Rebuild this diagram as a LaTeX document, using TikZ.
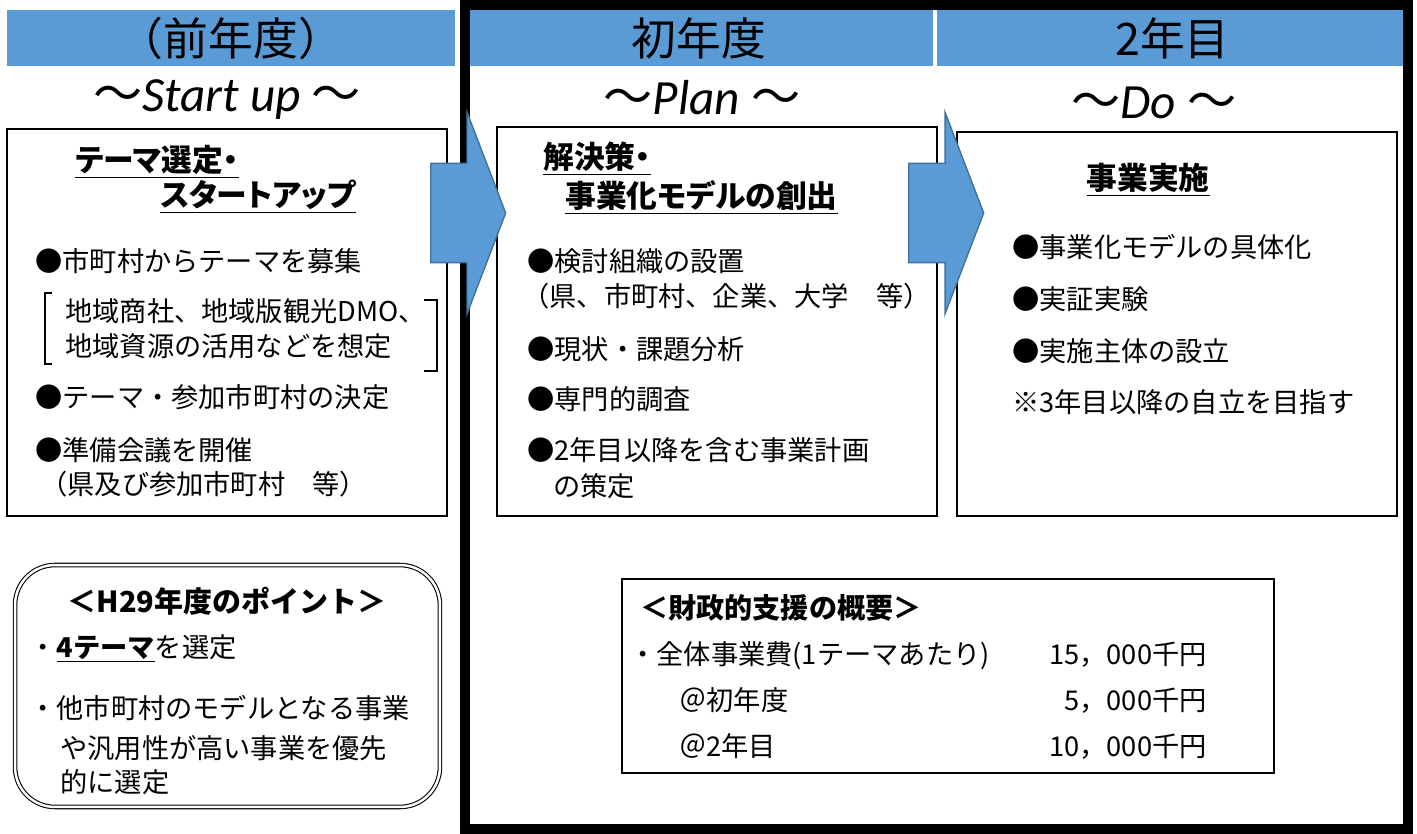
\documentclass[tikz,border=0pt]{standalone}
\usepackage{fontspec}
\setmainfont{Noto Sans CJK JP}
\newfontfamily\latinit{Carlito}
\newfontfamily\jpprop[RawFeature=+palt]{Noto Sans CJK JP}
\usepackage{tikz}
\definecolor{hdrblue}{RGB}{91,155,213}
\definecolor{arrowedge}{RGB}{65,113,156}
\usetikzlibrary{shapes.arrows}

\begin{document}
\begin{tikzpicture}[x=0.02cm,y=-0.02cm,
  hdr/.style={fill=hdrblue,inner sep=0pt,minimum height=1.12cm,
              font=\fontsize{25.5}{28}\selectfont},
  phase/.style={anchor=base,inner sep=0pt,font=\fontsize{28}{30}\selectfont},
  stepbox/.style={draw,line width=1.3pt,inner sep=0pt},
  heading/.style={anchor=base west,inner sep=0pt,
                  font=\jpprop\fontsize{17.5}{20}\selectfont\bfseries},
  item/.style={anchor=base west,inner sep=0pt,font=\fontsize{15.5}{18}\selectfont},
  bracket/.style={line width=0.6pt},
  blockarrow/.style={single arrow,fill=hdrblue,draw=arrowedge,line width=0.8pt,
                     inner xsep=0pt,inner ysep=0.98cm,minimum height=1.5cm,
                     single arrow head extend=1.02cm,single arrow tip angle=138}]
  \useasboundingbox (0,0) rectangle (1417,834);

  % year headers
  \node[hdr,minimum width=8.96cm] (prevhdr) at (231,38) {（前年度）};
  \node[hdr,minimum width=9.36cm] (firsthdr) at (699,38) {初年度};
  \node[hdr,minimum width=9.42cm] (secondhdr) at (1172.5,38) {2年目};

  \node[phase] (startup) at (227,112) {～{\latinit\itshape Start up }～};
  \node[phase] (plan) at (702,115) {～{\latinit\itshape Plan }～};
  \node[phase] (do) at (1154,119) {～{\latinit\itshape Do }～};

  % Start up box
  \node[stepbox,minimum width=8.8cm,minimum height=7.74cm] (startbox) at (227,322.5) {};
  \node[heading] (starttitA) at (75,172) {\underline{テーマ選定・}};
  \node[heading] (starttitB) at (160,207) {\underline{スタートアップ}};
  \node[item] (s1) at (35,272) {●市町村からテーマを募集};
  \node[item] (s2) at (65,322) {地域商社、地域版観光DMO、};
  \node[item] (s3) at (65,357) {地域資源の活用などを想定};
  \node[item] (s4) at (35,408) {●テーマ・参加市町村の決定};
  \node[item] (s5) at (35,460) {●準備会議を開催};
  \node[item] (s6) at (40,495) {（県及び参加市町村　等）};
  \draw[bracket] (52,293) -- (45,293) -- (45,364) -- (52,364);
  \draw[bracket] (424,300) -- (437,300) -- (437,371) -- (424,371);

  % Plan box
  \node[stepbox,minimum width=8.8cm,minimum height=7.78cm] (planbox) at (717,321.5) {};
  \node[heading] (plantitA) at (543,169) {\underline{解決策・}};
  \node[heading] (plantitB) at (565,208) {\underline{事業化モデルの創出}};
  \node[item] (p1) at (527,272) {●検討組織の設置};
  \node[item] (p2) at (522,307) {（県、市町村、企業、大学　等）};
  \node[item] (p3) at (527,360) {●現状・課題分析};
  \node[item] (p4) at (527,410) {●専門的調査};
  \node[item] (p5) at (527,460) {●2年目以降を含む事業計画};
  \node[item] (p6) at (553,497) {の策定};

  % Do box
  \node[stepbox,minimum width=8.8cm,minimum height=7.68cm] (dobox) at (1177,324) {};
  \node[heading,anchor=base] (dotit) at (1148,190) {\underline{事業実施}};
  \node[item] (d1) at (1012,258) {●事業化モデルの具体化};
  \node[item] (d2) at (1012,310) {●実証実験};
  \node[item] (d3) at (1012,362) {●実施主体の設立};
  \node[item] (d4) at (1012,413) {※3年目以降の自立を目指す};

  % H29 points
  \node[draw,double,double distance=1.4pt,line width=0.6pt,rounded corners=0.8cm,
        minimum width=8.5cm,minimum height=4.84cm] (pointbox) at (227.5,686) {};
  \node[item,anchor=base,font=\fontsize{16.5}{18}\selectfont\bfseries]
        (pointtit) at (227,612) {＜H29年度のポイント＞};
  \node[item] (k1) at (29,657) {・{\bfseries\underline{4テーマ}}を選定};
  \node[item] (k2) at (29,718) {・他市町村のモデルとなる事業};
  \node[item] (k3) at (60,758) {や汎用性が高い事業を優先};
  \node[item] (k4) at (60,792) {的に選定};

  % financial support
  \node[draw,line width=0.9pt,inner sep=0pt,minimum width=13.04cm,
        minimum height=3.88cm] (fundbox) at (948,676) {};
  \node[item,font=\fontsize{16}{18}\selectfont\bfseries] (fundtit) at (640,618)
        {＜財政的支援の概要＞};
  \node[item] (f1) at (629,664) {・全体事業費(1テーマあたり)};
  \node[item] (f2) at (679,710) {＠初年度};
  \node[item] (f3) at (679,756) {＠2年目};
  \node[item,anchor=base east] (f1v) at (1207,664) {15，000千円};
  \node[item,anchor=base east] (f2v) at (1207,710) {5，000千円};
  \node[item,anchor=base east] (f3v) at (1207,756) {10，000千円};

  % frame round year 1 and 2
  \node[draw,line width=5.7pt,inner sep=0pt,minimum width=18.86cm,
        minimum height=16.48cm] (yearframe) at (936.5,417) {};

  % arrows between steps
  \node[blockarrow,anchor=tail] (arr1) at (430,213) {};
  \node[blockarrow,anchor=tail] (arr2) at (908,213) {};
\end{tikzpicture}
\end{document}
